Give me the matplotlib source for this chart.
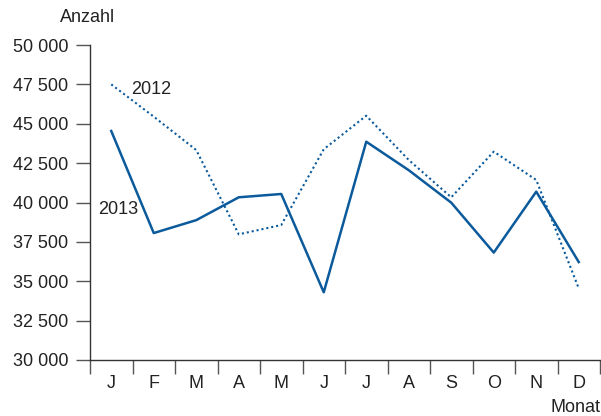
import matplotlib
matplotlib.use("Agg")
import matplotlib.pyplot as plt
from matplotlib.ticker import FixedLocator

months = ["J", "F", "M", "A", "M", "J", "J", "A", "S", "O", "N", "D"]
values_2012 = [47500, 45450, 43330, 37980, 38570, 43380, 45510, 42700, 40330, 43230, 41430, 34550]
values_2013 = [44540, 38060, 38880, 40330, 40540, 34300, 43860, 42050, 39990, 36820, 40690, 36220]
yticks = [30000, 32500, 35000, 37500, 40000, 42500, 45000, 47500, 50000]
ytick_labels = ["30 000", "32 500", "35 000", "37 500", "40 000", "42 500", "45 000", "47 500", "50 000"]

plt.rcParams['font.family'] = ['Liberation Sans', 'DejaVu Sans']
color = "#0b5a9c"
txt = "#222222"
fs = 13

fig = plt.figure(figsize=(6.01, 4.16), dpi=100)
ax = fig.add_axes([90/601, 56/416, 510/601, 315/416])
x = list(range(len(months)))
ax.plot(x, values_2012, color=color, lw=1.5, linestyle=(0, (1, 1.4)))
ax.plot(x, values_2013, color=color, lw=1.8)

ax.set_xlim(-0.5, 11.5)
ax.set_ylim(30000, 50000)
for s in ["top", "right"]:
    ax.spines[s].set_visible(False)
for s in ["left", "bottom"]:
    ax.spines[s].set_color("#333333")
    ax.spines[s].set_linewidth(1.0)

ax.set_yticks(yticks)
ax.set_yticklabels(ytick_labels, fontsize=fs, color=txt)
ax.tick_params(axis="y", length=10, width=1.0, color="#555555", pad=5.5, direction="out")

ax.set_xticks(x)
ax.set_xticklabels(months, fontsize=fs, color=txt)
ax.tick_params(axis="x", which="major", length=0, pad=11)
ax.xaxis.set_minor_locator(FixedLocator([i + 0.5 for i in range(-1, 12)]))
ax.tick_params(axis="x", which="minor", length=10, width=1.0, color="#555555", direction="out")

fig.text(60/601, 1 - 18/416, "Anzahl", fontsize=fs, color=txt, ha="left", va="center")
fig.text(600/601, 1 - 408/416, "Monat", fontsize=fs, color=txt, ha="right", va="center")
ax.text(0.46, 47150, "2012", fontsize=fs, color=txt, ha="left", va="center")
ax.text(-0.31, 39550, "2013", fontsize=fs, color=txt, ha="left", va="center")

fig.savefig("out.png", dpi=100)
